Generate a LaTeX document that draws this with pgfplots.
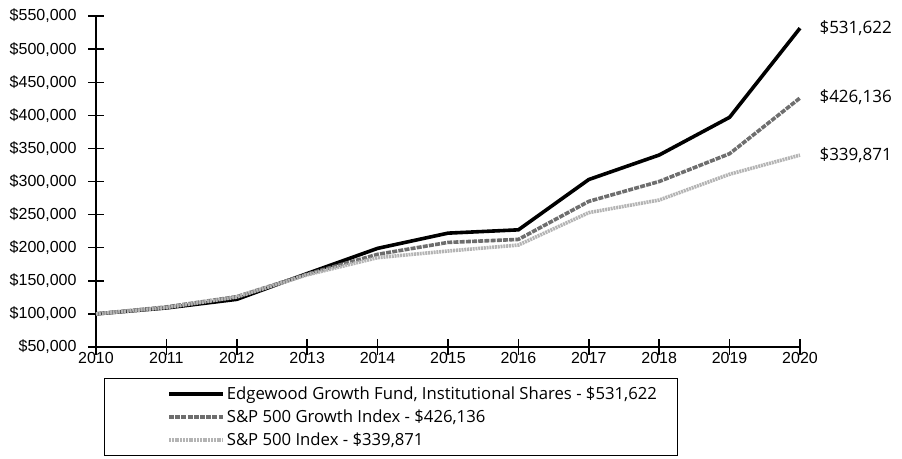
\documentclass[border=0pt]{standalone}
\usepackage{pgfplots}
\pgfplotsset{compat=1.18}
\usepackage{fontspec}
\setmainfont{Liberation Sans}
\newfontfamily\legfont{Open Sans}

\definecolor{growthgray}{HTML}{6E6E6E}
\definecolor{indexgray}{HTML}{B4B4B4}

\begin{document}
\begin{tikzpicture}
\begin{axis}[
    scale only axis,
    width=704pt, height=331pt,
    xmin=2010, xmax=2020,
    ymin=50000, ymax=550000,
    xtick={2010,2011,...,2020},
    ytick={50000,100000,...,550000},
    axis x line=bottom, axis y line=left,
    axis line style={-, line width=1.6pt},
    tick style={line width=1.4pt, black},
    tick align=center,
    major tick length=16pt,
    font=\fontsize{16}{18}\selectfont,
    /pgf/number format/assume math mode=true,
    x tick label style={/pgf/number format/1000 sep=, yshift=6pt},
    y tick label style={xshift=-8pt},
    yticklabel={\$\pgfmathprintnumber[fixed,1000 sep={,}]{\tick}},
    scaled y ticks=false,
    clip=false,
    legend cell align=left,
    legend style={at={(0.011,-0.094)}, anchor=north west, draw=black,
        line width=1pt, font=\legfont\fontsize{16.7}{18}\selectfont,
        row sep=5pt, inner xsep=19pt, inner ysep=6pt,
        /tikz/every even column/.append style={column sep=4pt}},
    legend image code/.code={\path (-44pt,0pt); \draw[#1] (0pt,0pt) -- (54pt,0pt);},
]
\addplot[black, line width=3.6pt] coordinates {
  (2010,100000) (2011,109000) (2012,122000) (2013,161000) (2014,199000)
  (2015,222000) (2016,227000) (2017,303000) (2018,340000) (2019,397000)
  (2020,531622)};
\addplot[growthgray, line width=3.6pt, dash pattern=on 5pt off 1.2pt] coordinates {
  (2010,100000) (2011,110500) (2012,126000) (2013,160000) (2014,190000)
  (2015,208000) (2016,212500) (2017,270000) (2018,300000) (2019,342000)
  (2020,426136)};
\addplot[indexgray, line width=3.6pt, dash pattern=on 2pt off 0.8pt] coordinates {
  (2010,100000) (2011,109500) (2012,125500) (2013,159000) (2014,185000)
  (2015,195000) (2016,204000) (2017,253000) (2018,272000) (2019,311000)
  (2020,339871)};
\legend{{Edgewood Growth Fund, Institutional Shares - \$531,622},
        {S\&P 500 Growth Index - \$426,136},
        {S\&P 500 Index - \$339,871}}
\node[anchor=west, font=\legfont\fontsize{17}{18}\selectfont] at (axis cs:2020,532000) [xshift=16pt] {\$531,622};
\node[anchor=west, font=\legfont\fontsize{17}{18}\selectfont] at (axis cs:2020,427000) [xshift=16pt] {\$426,136};
\node[anchor=west, font=\legfont\fontsize{17}{18}\selectfont] at (axis cs:2020,339500) [xshift=16pt] {\$339,871};
\end{axis}
\path (current axis.south west) ++(-96pt,-111pt) rectangle ++(902pt,458pt);
\end{tikzpicture}
\end{document}
